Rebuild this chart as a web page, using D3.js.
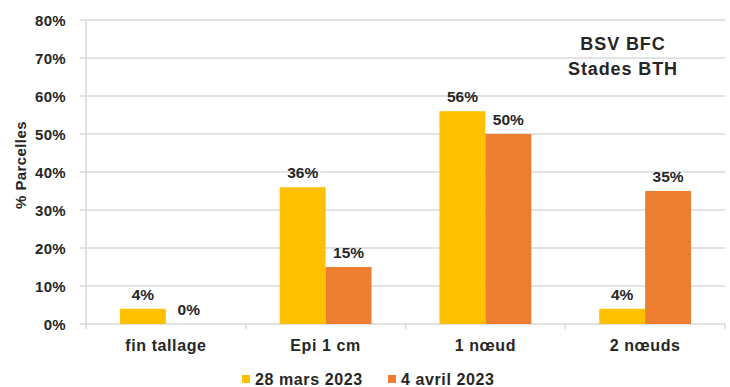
<!DOCTYPE html>
<html lang="fr">
<head>
  <meta charset="UTF-8">
  <title>BSV BFC - Stades BTH</title>
  <style>
    body { margin: 0; background: #fff; font-family: "Liberation Sans", Arial, sans-serif; }
    svg text { fill: #262626; font-weight: bold; }
  </style>
  <script src="https://d3js.org/d3.v7.min.js"></script>
</head>
<body>
  <svg id="chart" width="730" height="387"></svg>
  <script>
    const categories = ['fin tallage', 'Epi 1 cm', '1 nœud', '2 nœuds'];
    const seriesNames = ['28 mars 2023', '4 avril 2023'];
    const mars28 = [4, 36, 56, 4];
    const avril4 = [0, 15, 50, 35];
    const yTicks = [0, 10, 20, 30, 40, 50, 60, 70, 80];
    const colors = ['#FFC000', '#ED7D31'];

    const svg = d3.select('#chart');
    const plotLeft = 86, plotRight = 725, plotTop = 20, plotBottom = 324;

    const x = d3.scaleBand().domain(categories).range([plotLeft, plotRight]);
    const xs = d3.scaleBand().domain(seriesNames).range([0, x.bandwidth()]).paddingInner(0).paddingOuter(0.74);
    const y = d3.scaleLinear().domain([0, 80]).range([plotBottom, plotTop]);

    // gridlines
    svg.append('g')
      .selectAll('line')
      .data(yTicks)
      .enter().append('line')
      .attr('x1', plotLeft - 6).attr('x2', plotRight)
      .attr('y1', d => y(d)).attr('y2', d => y(d))
      .attr('stroke', '#d9d9d9').attr('stroke-width', 1.5);

    // y axis line
    svg.append('line')
      .attr('x1', plotLeft).attr('x2', plotLeft)
      .attr('y1', plotTop).attr('y2', plotBottom + 5)
      .attr('stroke', '#d9d9d9').attr('stroke-width', 1.5);

    // x ticks at category boundaries
    svg.append('g')
      .selectAll('line')
      .data(categories)
      .enter().append('line')
      .attr('x1', d => x(d) + x.bandwidth())
      .attr('x2', d => x(d) + x.bandwidth())
      .attr('y1', plotBottom).attr('y2', plotBottom + 5)
      .attr('stroke', '#d9d9d9').attr('stroke-width', 1.5);

    // y tick labels
    svg.append('g')
      .selectAll('text')
      .data(yTicks)
      .enter().append('text')
      .attr('x', 66)
      .attr('y', d => y(d) + 6)
      .attr('text-anchor', 'end')
      .style('font-size', '15px')
      .style('letter-spacing', '0.3px')
      .text(d => d + '%');

    // y axis title
    svg.append('text')
      .attr('transform', 'translate(26,165) rotate(-90)')
      .attr('text-anchor', 'middle')
      .style('font-size', '15px')
      .style('letter-spacing', '0.4px')
      .text('% Parcelles');

    const series = [mars28, avril4];
    series.forEach((vals, si) => {
      const g = svg.append('g');
      g.selectAll('rect')
        .data(vals)
        .enter().append('rect')
        .attr('x', (d, i) => x(categories[i]) + xs(seriesNames[si]))
        .attr('width', xs.bandwidth())
        .attr('y', d => y(d))
        .attr('height', d => y(0) - y(d))
        .attr('fill', colors[si]);
      g.selectAll('text')
        .data(vals)
        .enter().append('text')
        .attr('x', (d, i) => x(categories[i]) + xs(seriesNames[si]) + xs.bandwidth() / 2)
        .attr('y', d => y(d) - 9)
        .attr('text-anchor', 'middle')
        .style('font-size', '15.5px')
        .text(d => d + '%');
    });

    // category labels
    svg.append('g')
      .selectAll('text')
      .data(categories)
      .enter().append('text')
      .attr('x', d => x(d) + x.bandwidth() / 2)
      .attr('y', 351)
      .attr('text-anchor', 'middle')
      .style('font-size', '16px')
      .style('letter-spacing', '0.6px')
      .text(d => d);

    // title
    svg.append('text')
      .attr('x', 623).attr('y', 50)
      .attr('text-anchor', 'middle')
      .style('font-size', '18px')
      .style('letter-spacing', '0.9px')
      .text('BSV BFC');
    svg.append('text')
      .attr('x', 623).attr('y', 75)
      .attr('text-anchor', 'middle')
      .style('font-size', '18px')
      .style('letter-spacing', '0.9px')
      .text('Stades BTH');

    // legend
    const legendX = [242, 388];
    const legend = svg.append('g')
      .selectAll('g')
      .data(seriesNames)
      .enter().append('g')
      .attr('transform', (d, i) => `translate(${legendX[i]},375)`);
    legend.append('rect')
      .attr('width', 8).attr('height', 8)
      .attr('fill', (d, i) => colors[i]);
    legend.append('text')
      .attr('x', 13).attr('y', 10)
      .style('font-size', '16px')
      .style('letter-spacing', '0.6px')
      .text(d => d);
  </script>
</body>
</html>
